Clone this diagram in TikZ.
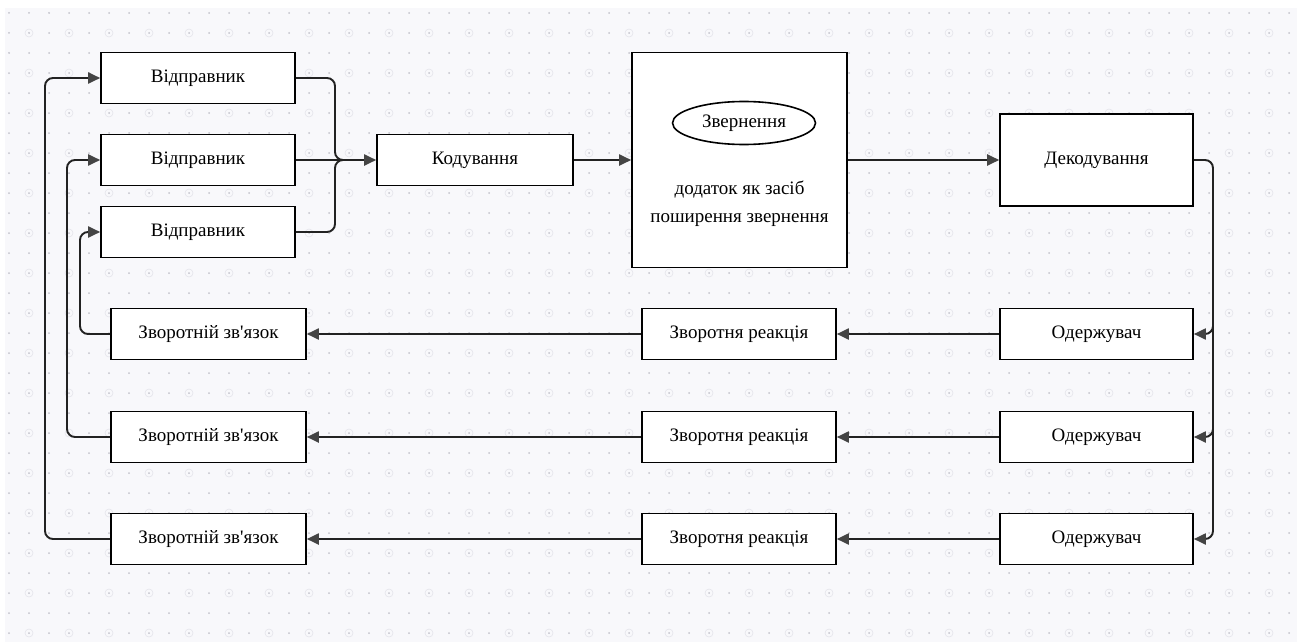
\documentclass[tikz,border=0pt]{standalone}
\usepackage{fontspec}
\setmainfont{Liberation Serif}
\newfontfamily\qfont{Liberation Serif}
\usetikzlibrary{arrows.meta,shapes.geometric}
\definecolor{bg}{HTML}{F8F8FB}
\definecolor{dotc}{HTML}{C4C4CC}
\definecolor{ringc}{HTML}{E4E4EA}
\definecolor{linec}{HTML}{222222}
\definecolor{tipc}{HTML}{444444}
\tikzset{
 lbl/.style={font=\qfont\fontsize{19}{23}\selectfont},
 box/.style={lbl, draw=black, line width=1.6pt, fill=white, minimum width=194pt, minimum height=51pt, inner sep=0pt},
 conn/.style={draw=linec, line width=1.9pt, rounded corners=8pt},
 arr/.style={conn, -{Triangle[length=12pt,width=11pt,color=tipc]}}
}
\begin{document}
\begin{tikzpicture}[x=1pt,y=-1pt]
\useasboundingbox (0,0) rectangle (1297,642);
\fill[bg] (5,8) rectangle (1297,642);
\foreach \x in {29,69,...,1289}{\foreach \y in {33,73,...,633}{\draw[ringc,line width=0.6pt] (\x,\y) circle (4pt);}}
\foreach \x in {9,29,...,1289}{\foreach \y in {13,33,...,633}{\fill[dotc] (\x,\y) circle (1pt);}}

% senders
\node[box] (S1) at (198,78) {Відправник};
\node[box] (S2) at (198,160) {Відправник};
\node[box] (S3) at (198,232) {Відправник};
\node[box, minimum width=196pt] (K) at (475,160) {Кодування};
\node[box, minimum width=215pt, minimum height=215pt] (B) at (739.5,160) {};
\node[lbl, draw=black, line width=1.6pt, ellipse, minimum width=143pt, minimum height=43pt, inner sep=0pt] (E) at (744,123) {Звернення};
\node[lbl, align=center, inner sep=0pt] (T) at (739.5,204) {додаток як засіб\\[5pt]поширення звернення};
\node[box, minimum width=193pt, minimum height=92pt] (D) at (1096.5,160) {Декодування};

% rows
\node[box, minimum width=193pt] (O1) at (1096.5,334) {Одержувач};
\node[box, minimum width=193pt] (O2) at (1096.5,437) {Одержувач};
\node[box, minimum width=193pt] (O3) at (1096.5,539) {Одержувач};
\node[box] (R1) at (739,334) {Зворотня реакція};
\node[box] (R2) at (739,437) {Зворотня реакція};
\node[box] (R3) at (739,539) {Зворотня реакція};
\node[box, minimum width=195pt] (F1) at (208.5,334) {Зворотній зв'язок};
\node[box, minimum width=195pt] (F2) at (208.5,437) {Зворотній зв'язок};
\node[box, minimum width=195pt] (F3) at (208.5,539) {Зворотній зв'язок};

% merge into coding
\coordinate (J) at (343,160);
\draw[conn] (S1.east) -| (335,160) -- (J);
\draw[conn] (S3.east) -| (335,160) -- (J);
\draw[arr] (S2.east) -- (K.west);
\draw[arr] (K.east) -- (B.west);
\draw[arr] (B.east) -- (D.west);

% decoding to receivers
\coordinate (V) at (1213,160);
\draw[arr] (D.east) -- (V) |- (O3.east);
\coordinate (V1) at (1213,318);
\coordinate (V2) at (1213,420);
\draw[arr] (V1) |- (O1.east);
\draw[arr] (V2) |- (O2.east);

% rows
\draw[arr] (O1.west) -- (R1.east);
\draw[arr] (O2.west) -- (R2.east);
\draw[arr] (O3.west) -- (R3.east);
\draw[arr] (R1.west) -- (F1.east);
\draw[arr] (R2.west) -- (F2.east);
\draw[arr] (R3.west) -- (F3.east);

% feedback loops
\draw[arr] (F1.west) -- (80,334) -- (80,232) -- (S3.west);
\draw[arr] (F2.west) -- (67,437) -- (67,160) -- (S2.west);
\draw[arr] (F3.west) -- (45,539) -- (45,78) -- (S1.west);
\end{tikzpicture}
\end{document}
